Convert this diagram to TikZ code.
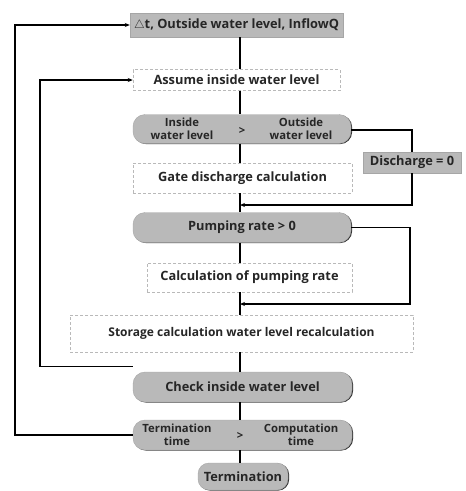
\documentclass[tikz,border=0pt]{standalone}
\usepackage{fontspec}
\setmainfont{Open Sans}
\usetikzlibrary{shadows,arrows.meta}
\begin{document}
\begin{tikzpicture}[x=1pt,y=-1pt,
  base/.style={inner sep=0pt,align=center,font=\bfseries\fontsize{12.8}{13}\selectfont,text=black!85},
  graybox/.style={base,fill=gray!55,draw=gray!70,
     drop shadow={shadow xshift=1.1pt,shadow yshift=-0.6pt,fill=black!80,opacity=1}},
  whitebox/.style={base,fill=white,draw=gray!55,densely dashed,line width=0.5pt},
  pill/.style={graybox,rounded corners=12pt},
  lbl/.style={inner sep=0pt,align=center,font=\bfseries\fontsize{11.3}{12.8}\selectfont,text=black!85},
  conn/.style={line width=1.3pt,draw=black},
  arr/.style={conn,-{Stealth[length=5pt,width=4pt]}}
]
\useasboundingbox (0,0) rectangle (466,491);
\coordinate (sp) at (240,0);

\node[graybox,minimum width=213pt,minimum height=24pt] (b1) at (236.5,25) {$\triangle$t, Outside water level, InflowQ};
\node[whitebox,minimum width=207pt,minimum height=21pt] (b2) at (236.5,80) {Assume inside water level};
\node[pill,minimum width=218pt,minimum height=29pt] (b3) at (242,129) {};
\node[lbl] (b3l) at (182,129) {Inside\\water level};
\node[lbl] (b3g) at (242,131) {>};
\node[lbl] (b3r) at (301,129) {Outside\\water level};
\node[graybox,minimum width=98pt,minimum height=21pt] (dis) at (412,162.5) {Discharge = 0};
\node[whitebox,minimum width=219pt,minimum height=30pt] (b4) at (242.5,178) {Gate discharge calculation};
\node[pill,minimum width=218pt,minimum height=30pt] (b5) at (242,227.5) {Pumping rate > 0};
\node[whitebox,minimum width=205pt,minimum height=29pt] (b6) at (249.5,277.5) {Calculation of pumping rate};
\node[whitebox,minimum width=343pt,minimum height=37pt,font=\bfseries\fontsize{12}{13}\selectfont] (b7) at (241.5,333.5) {Storage calculation water level recalculation};
\node[pill,minimum width=219pt,minimum height=30pt] (b8) at (242.5,387) {Check inside water level};
\node[pill,minimum width=219pt,minimum height=30pt] (b9) at (242.5,435) {};
\node[lbl] (b9l) at (177,435) {Termination\\time};
\node[lbl] (b9g) at (240,436) {>};
\node[lbl] (b9r) at (301,435) {Computation\\time};
\node[pill,minimum width=90pt,minimum height=27pt,rounded corners=11pt] (b10) at (243,476.5) {Termination};

\coordinate (j1) at (240,205);
\coordinate (j2) at (240,304);
\coordinate (c1) at (410,0);
\coordinate (l1) at (15,0);
\coordinate (l2) at (40,0);

\draw[conn] (b1.south -| sp) -- (b2.north -| sp);
\draw[conn] (b2.south -| sp) -- (b3.north -| sp);
\draw[conn] (b3.south -| sp) -- (b4.north -| sp);
\draw[conn] (b4.south -| sp) -- (b5.north -| sp);
\draw[conn] (b5.south -| sp) -- (b6.north -| sp);
\draw[conn] (b6.south -| sp) -- (b7.north -| sp);
\draw[conn] (b7.south -| sp) -- (b8.north -| sp);
\draw[conn] (b8.south -| sp) -- (b9.north -| sp);
\draw[conn] (b9.south -| sp) -- (b10.north -| sp);

\draw[conn] ([yshift=-1pt]b3.east) -| (dis.north);
\draw[arr] (dis.south) |- (j1);
\draw[arr] (b5.east) -| (c1 |- j2) -- (j2);

\draw[arr] (b9.west) -| (l1 |- b1) -- (b1.west);
\draw[arr] ([yshift=5pt]b8.north west) -| (l2 |- b2) -- (b2.west);
\end{tikzpicture}
\end{document}
